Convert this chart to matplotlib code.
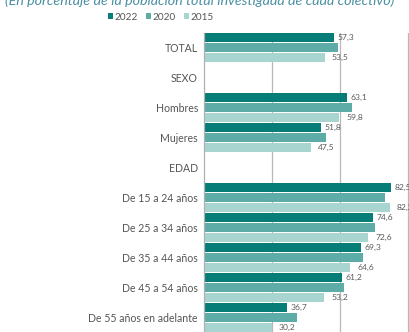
import matplotlib
matplotlib.use("Agg")
import matplotlib.pyplot as plt
import numpy as np

categories = ["TOTAL", "SEXO", "Hombres", "Mujeres", "EDAD",
              "De 15 a 24 años", "De 25 a 34 años", "De 35 a 44 años",
              "De 45 a 54 años", "De 55 años en adelante"]
v2022 = [57.3, None, 63.1, 51.8, None, 82.5, 74.6, 69.3, 61.2, 36.7]
v2020 = [59.3, None, 65.3, 54.0, None, 80.0, 75.6, 70.4, 62.0, 41.3]
v2015 = [53.5, None, 59.8, 47.5, None, 82.2, 72.6, 64.6, 53.2, 30.2]
series_names = ["2022", "2020", "2015"]
colors = ["#067d76", "#5eaca7", "#a9d5d1"]
title = "(En porcentaje de la población total investigada de cada colectivo)"

plt.rcParams['font.family'] = ['Lato', 'DejaVu Sans']

W, H = 409, 332
fig = plt.figure(figsize=(W / 100, H / 100), dpi=100)
x0 = 203.5
scale = 2.27
xmax = 100
ax_w = xmax * scale
top_px, bot_px = 32.5, 332.5
ax = fig.add_axes([x0 / W, 1 - bot_px / H, ax_w / W, (bot_px - top_px) / H])

n = len(categories)
y = np.arange(n)
off = 0.323
bh = 0.29
for k, (vals, c) in enumerate(zip([v2022, v2020, v2015], colors)):
    ys = [yy + (k - 1) * off for yy, v in zip(y, vals) if v is not None]
    vs = [v for v in vals if v is not None]
    ax.barh(ys, vs, height=bh, color=c, zorder=2, label=series_names[k])

for yy, v in zip(y, v2022):
    if v is not None:
        ax.annotate(f"{v:.1f}".replace(".", ","), (v, yy - off), xytext=(2.5, 0),
                    textcoords="offset points", va="center", ha="left",
                    fontsize=6.1, color="#5a5a5a")
for yy, v in zip(y, v2015):
    if v is not None:
        ax.annotate(f"{v:.1f}".replace(".", ","), (v, yy + off), xytext=(5, 0),
                    textcoords="offset points", va="center", ha="left",
                    fontsize=6.1, color="#5a5a5a")

ax.set_xlim(0, xmax)
ax.set_ylim(n - 0.5, -0.5)
ax.set_yticks(y)
ax.set_yticklabels(categories, fontsize=7.6, color="#555555")
ax.tick_params(axis="y", length=0, pad=4)
ax.set_xticks([30, 60, 90])
ax.tick_params(axis="x", length=0, labelbottom=False)
ax.grid(axis="x", color="#b8b8b8", linewidth=0.9, zorder=0)
for s in ["top", "right", "bottom"]:
    ax.spines[s].set_visible(False)
ax.spines["left"].set_color("#b0b0b0")
ax.spines["left"].set_linewidth(0.9)

fig.legend(loc="center", bbox_to_anchor=(161 / W, 1 - 17 / H), ncol=3,
           frameon=False, fontsize=7.2, handlelength=0.5, handleheight=0.5,
           handletextpad=0.15, columnspacing=0.8, labelcolor="#555555")

fig.text(200 / W, 1 - 0.5 / H, title, ha="center", va="center",
         fontsize=10.3, style="italic", color="#4a8fa3")

fig.savefig("out.png", dpi=100)
